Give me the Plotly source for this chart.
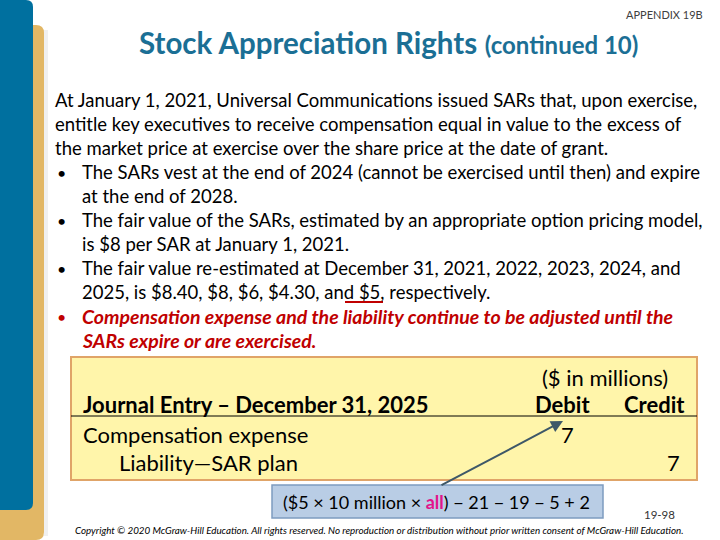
import plotly.graph_objects as go

# ---- content ----
title_main = "Stock Appreciation Rights"
title_sub = "(continued 10)"
appendix = "APPENDIX 19B"
years = [2021, 2022, 2023, 2024, 2025]
fair_values = ["$8.40", "$8", "$6", "$4.30", "$5"]
grant_value = "$8"
intro_lines = [
    "At January 1, 2021, Universal Communications issued SARs that, upon exercise,",
    "entitle key executives to receive compensation equal in value to the excess of",
    "the market price at exercise over the share price at the date of grant.",
]
bullets = [
    ["The SARs vest at the end of 2024 (cannot be exercised until then) and expire",
     "at the end of 2028."],
    ["The fair value of the SARs, estimated by an appropriate option pricing model,",
     f"is {grant_value} per SAR at January 1, 2021."],
    [f"The fair value re-estimated at December 31, {years[0]}, {years[1]}, {years[2]}, {years[3]}, and",
     f"{years[4]}, is {fair_values[0]}, {fair_values[1]}, {fair_values[2]}, {fair_values[3]}, and {fair_values[4]}, respectively."],
]
red_bullet = ["Compensation expense and the liability continue to be adjusted until the",
              "SARs expire or are exercised."]
entry_header = "Journal Entry – December 31, 2025"
accounts = ["Compensation expense", "Liability—SAR plan"]
debits = ["7", ""]
credits = ["", "7"]
calc_parts = ["($5 × 10 million × ", "all", ") − 21 − 19 − 5 + 2"]
page_no = "19-98"
copyright_txt = ("Copyright © 2020 McGraw-Hill Education. All rights reserved. No reproduction or "
                 "distribution without prior written consent of McGraw-Hill Education.")

FONT = "Lato"
BLUE = "#00709F"
GOLD = "#E2B765"
TITLE_C = "#1B6F95"
RED = "#C00000"

fig = go.Figure()
fig.add_trace(go.Scatter(x=[0, 720], y=[0, 540], mode="markers",
                         marker=dict(opacity=0), hoverinfo="skip", showlegend=False))

shapes = []
shapes.append(dict(type="path", path="M 0 25 L 36 25 Q 44 25 44 33 L 44 532 Q 44 540 36 540 L 0 540 Z",
                   fillcolor=GOLD, line=dict(width=0), layer="below"))
shapes.append(dict(type="rect", x0=44, x1=48, y0=30, y1=536, fillcolor="rgba(0,0,0,0.06)",
                   line=dict(width=0), layer="below"))
shapes.append(dict(type="path", path="M 0 0 L 26 0 Q 33 0 33 7 L 33 503 Q 33 510 26 510 L 0 510 Z",
                   fillcolor=BLUE, line=dict(width=0), layer="below"))
shapes.append(dict(type="rect", x0=71, x1=697, y0=357, y1=480, fillcolor="#FFF5AA",
                   line=dict(color="#E0A468", width=2), layer="below"))
shapes.append(dict(type="line", x0=71, x1=697, y0=416, y1=416, line=dict(color="black", width=1)))
shapes.append(dict(type="rect", x0=272, x1=603, y0=485, y1=518, fillcolor="#B9CDE5",
                   line=dict(color="#7E9CC0", width=1.5)))
shapes.append(dict(type="line", x0=345, x1=383, y0=302, y1=302, line=dict(color=RED, width=2)))

ann = []
def txt(x, y, t, size=18.5, color="black", xanchor="left", family=FONT):
    ann.append(dict(x=x, y=y, xref="x", yref="y", text=t, showarrow=False,
                    xanchor=xanchor, yanchor="middle",
                    font=dict(family=family, size=size, color=color)))

txt(705, 14, appendix, size=11, color="#404040", xanchor="right")
txt(388, 42, f"<b>{title_main}</b> <b><span style='font-size:24px'>{title_sub}</span></b>",
    size=29.5, color=TITLE_C, xanchor="center")

y = 100
step = 24
for line in intro_lines:
    txt(53, y, line)
    y += step
for b in bullets:
    for i, line in enumerate(b):
        if i == 0:
            txt(55, y, "•", size=16)
        txt(80, y, line)
        y += step
for i, line in enumerate(red_bullet):
    if i == 0:
        txt(55, y, "•", size=16, color=RED)
    txt(80, y, f"<b><i>{line}</i></b>", size=19.5, color=RED)
    y += step

# journal entry
txt(605, 377, "($ in millions)", size=22, xanchor="center")
txt(81, 404, f"<b>{entry_header}</b>", size=22)
txt(562, 404, "<b>Debit</b>", size=22, xanchor="center")
txt(687, 404, "<b>Credit</b>", size=22, xanchor="right")
row_y = [434, 462]
indent = [81, 117]
for a, d, c, ry, ix in zip(accounts, debits, credits, row_y, indent):
    txt(ix, ry, a, size=22)
    if d:
        txt(576, ry, d, size=22, xanchor="right")
    if c:
        txt(682, ry, c, size=22, xanchor="right")

txt(436, 502, f"{calc_parts[0]}<b><span style='color:#E2148C'>{calc_parts[1]}</span></b>{calc_parts[2]}",
    size=18, xanchor="center")
txt(677, 514, page_no, size=11.5, color="#333333", xanchor="right")
txt(379, 530, f"<i>{copyright_txt}</i>", size=9.8, xanchor="center")

ann.append(dict(x=563, y=421, ax=440, ay=486, xref="x", yref="y", axref="x", ayref="y",
                showarrow=True, arrowhead=2, arrowsize=1.2, arrowwidth=2, arrowcolor="#3E5868",
                text=""))

fig.update_layout(
    width=720, height=540, margin=dict(l=0, r=0, t=0, b=0),
    paper_bgcolor="white", plot_bgcolor="white",
    xaxis=dict(range=[0, 720], visible=False, fixedrange=True),
    yaxis=dict(range=[540, 0], visible=False, fixedrange=True),
    shapes=shapes, annotations=ann, showlegend=False,
)
fig.write_html("out.html", config={"displayModeBar": False},
               post_script="document.body.style.margin='0';document.body.style.overflow='hidden';")
